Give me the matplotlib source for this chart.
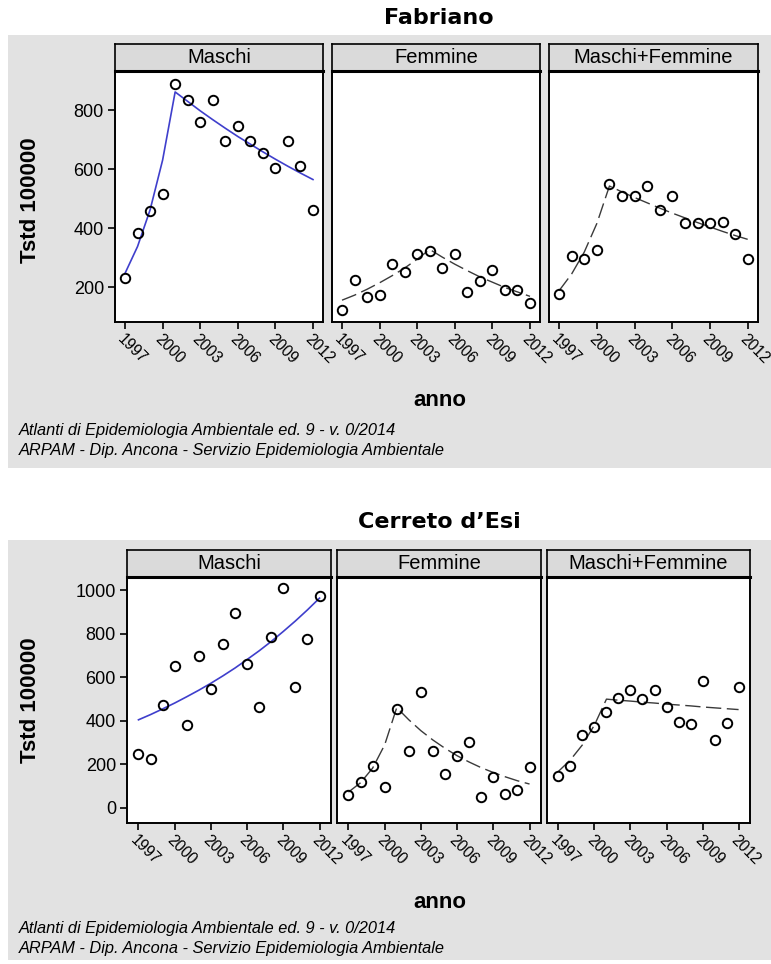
import matplotlib
matplotlib.use("Agg")
import matplotlib.pyplot as plt
from matplotlib.patches import Rectangle
from matplotlib.transforms import ScaledTranslation

# ---------------- data ----------------
years = list(range(1997, 2013))
year_ticks = [1997, 2000, 2003, 2006, 2009, 2012]
panel_titles = ["Maschi", "Femmine", "Maschi+Femmine"]

# Fabriano
fab_m = [230, 385, 457, 515, 890, 834, 759, 834, 697, 746, 697, 655, 603, 697, 610, 463]
fab_m_fit = [247, 338, 462, 631, 862, 830, 798, 768, 739, 711, 685, 659, 634, 610, 587, 565]
fab_f = [122, 224, 166, 172, 277, 250, 311, 322, 265, 314, 183, 222, 258, 190, 192, 145]
fab_f_fit = [156, 173, 193, 215, 239, 265, 295, 328, 302, 278, 256, 235, 217, 199, 184, 169]
fab_mf = [176, 305, 297, 325, 551, 508, 508, 543, 463, 508, 418, 418, 416, 422, 382, 295]
fab_mf_fit = [188, 245, 319, 416, 543, 523, 504, 486, 468, 451, 435, 419, 404, 389, 375, 362]
fab_yticks = [200, 400, 600, 800]

# Cerreto d'Esi
cer_m = [248, 225, 472, 653, 382, 700, 546, 752, 897, 660, 462, 784, 1012, 555, 777, 974]
cer_m_fit = [405, 429, 455, 482, 511, 541, 573, 607, 643, 682, 722, 765, 811, 859, 910, 964]
cer_f = [61, 119, 194, 96, 454, 260, 532, 260, 156, 241, 303, 50, 144, 66, 81, 186]
cer_f_fit = [73, 116, 183, 290, 461, 405, 355, 312, 274, 240, 211, 185, 163, 143, 125, 110]
cer_mf = [145, 195, 336, 374, 443, 503, 544, 500, 540, 463, 396, 385, 581, 312, 390, 558]
cer_mf_fit = [168, 221, 290, 381, 500, 495, 491, 486, 482, 477, 473, 469, 464, 460, 456, 452]
cer_yticks = [0, 200, 400, 600, 800, 1000]

footnote1 = "Atlanti di Epidemiologia Ambientale ed. 9 - v. 0/2014"
footnote2 = "ARPAM - Dip. Ancona - Servizio Epidemiologia Ambientale"

# ---------------- layout ----------------
W, H = 771, 964
fig = plt.figure(figsize=(W / 100, H / 100), dpi=100)
fig.patch.set_facecolor("white")

SANS = ["Liberation Sans", "DejaVu Sans"]
TITLE_FONT = ["DejaVu Sans"]


def rect(x0, y0, x1, y1):
    return [x0 / W, 1 - y1 / H, (x1 - x0) / W, (y1 - y0) / H]


def fx(x):
    return x / W


def fy(y):
    return 1 - y / H


shift = ScaledTranslation(-5 / 100, 0, fig.dpi_scale_trans)


def draw_block(title, title_y, box, panels_x, strip_top, plot_top, plot_bottom,
               ylim, xlim, yticks, series, ylabel_y, xlabel_y, foot_y):
    bx0, by0, bx1, by1 = box
    fig.patches.append(Rectangle((fx(bx0), fy(by1)), (bx1 - bx0) / W, (by1 - by0) / H,
                                 transform=fig.transFigure, facecolor="#e2e2e2",
                                 edgecolor="none", zorder=-5))
    fig.text(fx(439), fy(title_y), title, ha="center", va="center",
             fontsize=16, fontweight="bold", family=TITLE_FONT)
    for i, (x0, x1) in enumerate(panels_x):
        obs, fit, style = series[i]
        ax = fig.add_axes(rect(x0, plot_top, x1, plot_bottom))
        ax.set_facecolor("white")
        if style == "solid":
            ax.plot(years, fit, color="#3f3fcc", lw=1.2, zorder=2)
        else:
            ax.plot(years, fit, color="#3a3a3a", lw=1.0, dashes=(11, 4), zorder=2)
        ax.plot(years, obs, linestyle="none", marker="o", markersize=6.8,
                markerfacecolor="none", markeredgecolor="black",
                markeredgewidth=1.4, zorder=3)
        ax.set_xlim(*xlim)
        ax.set_ylim(*ylim)
        ax.set_xticks(year_ticks)
        ax.set_xticklabels([str(t) for t in year_ticks], rotation=-45,
                           ha="left", va="top", rotation_mode="anchor",
                           fontsize=11.2, family=SANS)
        for lab in ax.get_xticklabels():
            lab.set_transform(lab.get_transform() + shift)
        ax.tick_params(axis="x", length=5, width=1.2, pad=2, color="black")
        if i == 0:
            ax.set_yticks(yticks)
            ax.set_yticklabels([str(t) for t in yticks], fontsize=13, family=SANS)
            ax.tick_params(axis="y", length=5, width=1.2, pad=3)
        else:
            ax.set_yticks([])
        for s in ax.spines.values():
            s.set_linewidth(1.4)
            s.set_color("black")
        # strip
        sax = fig.add_axes(rect(x0, strip_top, x1, plot_top))
        sax.set_facecolor("#dadada")
        sax.set_xticks([])
        sax.set_yticks([])
        for s in sax.spines.values():
            s.set_linewidth(1.2)
        sax.spines["bottom"].set_linewidth(2.2)
        sax.text(0.5, 0.5, panel_titles[i], ha="center", va="center",
                 fontsize=14.5, family=SANS, transform=sax.transAxes)
    fig.text(fx(31), fy(ylabel_y), "Tstd 100000", rotation=90, ha="center",
             va="center", fontsize=16, fontweight="bold", family=SANS)
    fig.text(fx(440), fy(xlabel_y), "anno", ha="center", va="center",
             fontsize=16, fontweight="bold", family=SANS)
    fig.text(fx(19), fy(foot_y[0]), footnote1, ha="left", va="center",
             fontsize=11.8, style="italic", family=SANS)
    fig.text(fx(19), fy(foot_y[1]), footnote2, ha="left", va="center",
             fontsize=11.8, style="italic", family=SANS)


draw_block("Fabriano", 18, (8, 35, 771, 468),
           [(115, 323), (332, 540), (549, 758)],
           44, 71, 322, (82, 933), (1996.2, 2012.8), fab_yticks,
           [(fab_m, fab_m_fit, "solid"), (fab_f, fab_f_fit, "dash"),
            (fab_mf, fab_mf_fit, "dash")],
           200, 400, (431, 450))

draw_block("Cerreto d\u2019Esi", 522, (8, 540, 771, 960),
           [(127, 331), (337, 541), (547, 750)],
           550, 577, 823, (-69, 1061), (1996.05, 2012.95), cer_yticks,
           [(cer_m, cer_m_fit, "solid"), (cer_f, cer_f_fit, "dash"),
            (cer_mf, cer_mf_fit, "dash")],
           700, 902, (929, 948))

fig.savefig("out.png", dpi=100, facecolor=fig.get_facecolor())
